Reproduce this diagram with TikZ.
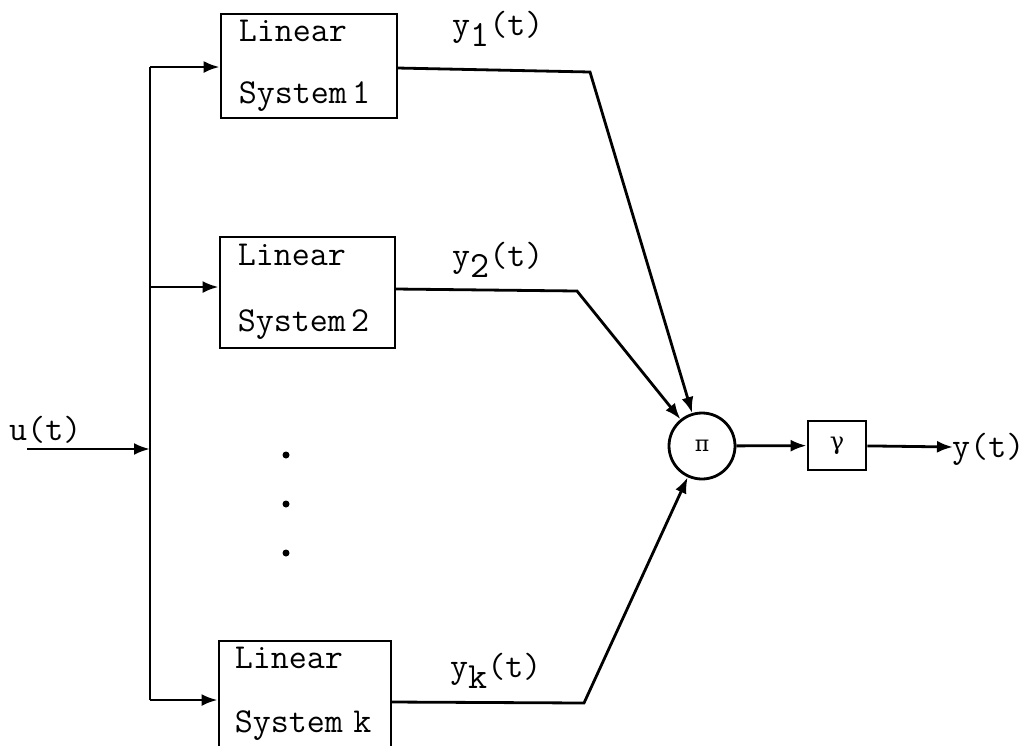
\documentclass[tikz,border=0pt]{standalone}
\usepackage{fontspec}
\newfontfamily\grk{DejaVu Serif}
\usetikzlibrary{arrows.meta,calc}
\newcommand\lowsub[1]{\raisebox{-11pt}{\fontsize{37}{37}\selectfont#1}}
\begin{document}
\begin{tikzpicture}[x=1pt,y=-1pt,
  wire/.style={line width=2.8pt},
  arr/.style={wire,-{Latex[length=16pt,width=12pt]}},
  sysbox/.style={draw,line width=2.8pt,inner sep=0pt},
  txt/.style={font=\ttfamily\fontsize{35}{35}\selectfont,inner sep=0pt},
  sig/.style={txt,anchor=base west},
  dotmark/.style={circle,fill,inner sep=0pt,minimum size=7pt}]
\useasboundingbox (0,0) rectangle (1027,745);

% linear subsystems
\node[sysbox,minimum width=176pt,minimum height=104pt] (b1) at (309,66) {};
\node[sysbox,minimum width=175pt,minimum height=111pt] (b2) at (307.5,292.5) {};
\node[sysbox,minimum width=172pt,minimum height=110pt] (bk) at (305,696) {};

\node[sig] (b1a) at ($(b1.north west)+(19,29)$) {Linear};
\node[sig] (b1b) at ($(b1.north west)+(19,91)$) {System\hspace{0.15em}1};
\node[sig] (b2a) at ($(b2.north west)+(19,30)$) {Linear};
\node[sig] (b2b) at ($(b2.north west)+(19,96)$) {System\hspace{0.15em}2};
\node[sig] (bka) at ($(bk.north west)+(17,29)$) {Linear};
\node[sig] (bkb) at ($(bk.north west)+(17,93)$) {System\hspace{0.3em}k};

% product and gain
\node[draw,circle,line width=2.8pt,minimum size=66pt,inner sep=0pt,
      font=\grk\fontsize{22}{22}\selectfont] (pi) at (702,446) {π};
\node[sysbox,minimum width=58pt,minimum height=49pt,
      font=\grk\fontsize{24}{24}\selectfont] (g) at (837,445.5) {γ};

% input distribution
\coordinate (uin) at (27,449);
\coordinate (ju) at (150,449);
\coordinate (j1) at (150,67);
\coordinate (j2) at (150,287);
\coordinate (jk) at (150,700);
\node[sig] (ulab) at (9,440) {u(t)};
\draw[arr] (uin) -- (ju);
\draw[wire] (j1) -- (jk);
\draw[arr] (j1) -- (j1 -| b1.west);
\draw[arr] (j2) -- (j2 -| b2.west);
\draw[arr] (jk) -- (jk -| bk.west);

% dots for the omitted subsystems
\node[dotmark] (d1) at (286,455) {};
\node[dotmark] (d2) at (286,504) {};
\node[dotmark] (d3) at (286,553) {};

% outputs into the multiplier
\coordinate (o1) at (397,68);
\coordinate (c1) at (590,72);
\coordinate (o2) at (395,289);
\coordinate (c2) at (577,291);
\coordinate (ok) at (391,702);
\coordinate (ck) at (584,703);
\draw[arr] (o1) -- (c1) -- (pi);
\draw[arr] (o2) -- (c2) -- (pi);
\draw[arr] (ok) -- (ck) -- (pi);
\node[sig] (y1) at (452,35) {y\lowsub{1}(t)};
\node[sig] (y2) at (452,266) {y\lowsub{2}(t)};
\node[sig] (yk) at (450,677) {y\lowsub{k}(t)};

% output
\coordinate (yout) at (953,447);
\draw[arr] (pi) -- (g);
\draw[arr] (g) -- (yout);
\node[sig] (ylab) at (952,457) {y(t)};
\end{tikzpicture}
\end{document}
